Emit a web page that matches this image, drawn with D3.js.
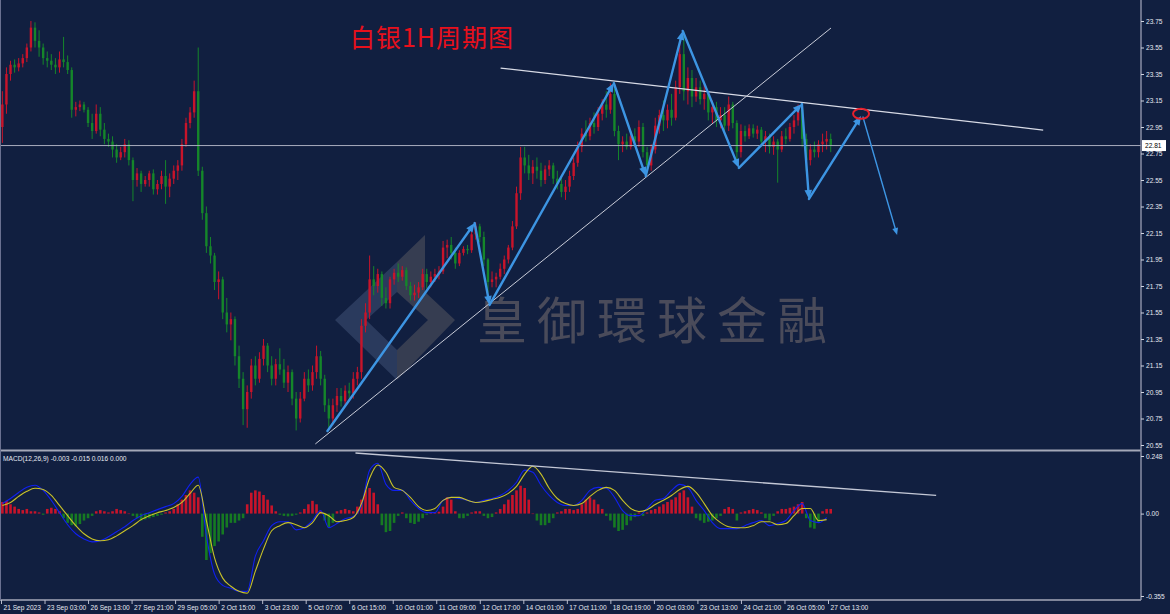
<!DOCTYPE html>
<html><head><meta charset="utf-8">
<script src="https://cdn.jsdelivr.net/npm/d3@7"></script>
<style>html,body{margin:0;padding:0;background:#111f40;overflow:hidden}</style>
</head><body>
<svg id="c" width="1170" height="614"></svg>
<script>
// ---------- DATA (3-hour candles, hour index = 3*i+1) ----------
const opens = [
22.95,23.12,23.35,23.42,23.40,23.43,23.47,23.55,23.70,23.60,
23.55,23.47,23.45,23.42,23.40,23.46,23.44,23.38,23.08,23.10,
23.12,23.08,22.98,22.92,23.05,22.93,22.86,22.84,22.78,22.72,
22.76,22.82,22.70,22.55,22.60,22.52,22.55,22.60,22.48,22.52,
22.58,22.50,22.56,22.62,22.66,22.82,22.98,23.06,23.22,22.62,
22.30,22.05,21.98,21.78,21.80,21.55,21.46,21.50,21.22,21.05,
20.82,20.95,21.15,21.05,21.20,21.30,21.15,21.05,21.16,21.12,
21.02,21.10,20.90,20.75,20.90,21.05,21.00,21.10,21.22,21.05,
20.85,20.75,20.85,20.92,20.88,20.96,20.94,21.05,21.10,21.45,
21.55,21.80,21.75,21.84,21.66,21.62,21.80,21.85,21.82,21.87,
21.75,21.68,21.70,21.74,21.84,21.78,21.82,21.84,21.86,22.04,
22.06,22.00,21.92,22.00,22.03,22.02,22.14,22.20,22.12,21.95,
21.78,21.80,21.82,21.88,21.95,22.04,22.20,22.45,22.72,22.66,
22.60,22.65,22.62,22.55,22.63,22.66,22.56,22.52,22.46,22.50,
22.58,22.68,22.80,22.90,22.88,22.98,22.95,23.05,23.12,23.08,
23.20,22.92,22.82,22.84,22.80,22.88,22.84,22.95,22.76,22.66,
22.78,22.96,23.04,23.00,23.08,23.02,23.25,23.50,23.22,23.32,
23.18,23.25,23.16,23.20,23.06,23.10,23.00,23.04,22.96,23.12,
22.98,22.76,22.92,22.88,22.94,22.90,22.93,22.84,22.88,22.80,
22.84,22.78,22.88,22.86,22.95,23.00,23.08,22.86,22.70,22.78,
22.76,22.82,22.84,22.86];
const highs = [
23.22,23.40,23.45,23.46,23.47,23.50,23.58,23.75,23.74,23.68,
23.58,23.52,23.50,23.47,23.52,23.63,23.49,23.40,23.14,23.15,
23.14,23.10,23.05,23.12,23.10,22.98,22.90,22.88,22.82,22.80,
22.86,22.85,22.72,22.64,22.62,22.58,22.62,22.63,22.55,22.62,
22.70,22.60,22.66,22.70,22.86,23.02,23.10,23.30,23.55,22.65,
22.35,22.12,22.00,21.86,21.82,21.66,21.55,21.52,21.30,21.10,
21.00,21.20,21.22,21.25,21.35,21.32,21.22,21.20,21.28,21.20,
21.15,21.12,20.95,20.95,21.10,21.12,21.15,21.30,21.26,21.08,
20.90,20.90,20.98,20.98,21.00,21.02,21.10,21.14,21.50,21.62,
21.98,21.90,21.88,21.86,21.74,21.82,21.88,21.92,21.90,21.89,
21.78,21.76,21.78,21.88,21.88,21.86,21.88,21.90,22.09,22.10,
22.12,22.04,22.02,22.05,22.06,22.18,22.23,22.22,22.16,21.96,
21.86,21.85,21.92,21.98,22.06,22.24,22.50,22.80,22.80,22.74,
22.70,22.72,22.68,22.66,22.70,22.68,22.62,22.58,22.55,22.62,
22.72,22.84,22.94,23.00,23.02,23.06,23.10,23.16,23.22,23.28,
23.24,22.96,22.88,22.90,22.92,22.94,23.00,22.98,22.80,22.82,
23.02,23.08,23.15,23.12,23.20,23.30,23.60,23.67,23.40,23.38,
23.32,23.30,23.27,23.22,23.15,23.14,23.10,23.10,23.18,23.14,
23.00,22.97,22.96,22.97,22.97,22.96,22.95,22.92,22.90,22.88,
22.86,22.92,22.94,22.98,23.04,23.12,23.10,22.90,22.82,22.84,
22.85,22.90,22.92,22.90];
const lows = [
22.83,23.05,23.30,23.36,23.37,23.40,23.44,23.52,23.55,23.48,
23.42,23.40,23.38,23.35,23.36,23.40,23.35,23.02,23.03,23.07,
23.06,22.95,22.86,22.90,22.88,22.82,22.80,22.72,22.68,22.70,
22.72,22.66,22.39,22.50,22.46,22.50,22.50,22.44,22.44,22.48,
22.37,22.42,22.52,22.55,22.62,22.80,22.94,23.02,22.58,22.25,
22.00,21.92,21.72,21.65,21.50,21.40,21.34,21.15,20.98,20.70,
20.68,20.90,21.00,21.02,21.15,21.10,21.00,21.00,21.08,20.98,
20.95,20.85,20.66,20.72,20.88,20.95,20.96,21.05,21.00,20.80,
20.68,20.70,20.80,20.84,20.85,20.90,20.90,21.00,21.05,21.40,
21.50,21.68,21.70,21.60,21.58,21.58,21.76,21.78,21.79,21.72,
21.64,21.64,21.66,21.72,21.73,21.74,21.78,21.80,21.84,21.96,
21.95,21.88,21.90,21.98,21.99,22.00,22.10,22.08,21.90,21.70,
21.74,21.74,21.80,21.84,21.92,22.02,22.18,22.40,22.60,22.55,
22.52,22.56,22.50,22.52,22.58,22.52,22.48,22.42,22.40,22.46,
22.55,22.65,22.76,22.84,22.85,22.90,22.92,23.00,23.02,23.05,
22.88,22.70,22.76,22.78,22.78,22.80,22.80,22.72,22.60,22.62,
22.75,22.90,22.92,22.94,22.96,23.00,23.20,23.15,23.12,23.10,
23.14,23.12,23.08,23.00,22.98,22.95,22.94,22.92,22.92,22.94,
22.70,22.72,22.84,22.86,22.87,22.86,22.80,22.76,22.75,22.74,
22.53,22.76,22.82,22.84,22.90,22.96,22.80,22.62,22.66,22.72,
22.72,22.76,22.78,22.76];
const closes = [
23.12,23.35,23.42,23.40,23.43,23.47,23.55,23.70,23.60,23.55,
23.47,23.45,23.42,23.40,23.46,23.44,23.38,23.08,23.10,23.12,
23.08,22.98,22.92,23.05,22.93,22.86,22.84,22.78,22.72,22.76,
22.82,22.70,22.55,22.60,22.52,22.55,22.60,22.48,22.52,22.58,
22.50,22.56,22.62,22.66,22.82,22.98,23.06,23.22,22.62,22.30,
22.05,21.98,21.78,21.80,21.55,21.46,21.50,21.22,21.05,20.82,
20.95,21.15,21.05,21.20,21.30,21.15,21.05,21.16,21.12,21.02,
21.10,20.90,20.75,20.90,21.05,21.00,21.10,21.22,21.05,20.85,
20.75,20.85,20.92,20.88,20.96,20.94,21.05,21.10,21.45,21.55,
21.80,21.75,21.84,21.66,21.62,21.80,21.85,21.82,21.87,21.75,
21.68,21.70,21.74,21.84,21.78,21.82,21.84,21.86,22.04,22.06,
22.00,21.92,22.00,22.03,22.02,22.14,22.20,22.12,21.95,21.78,
21.80,21.82,21.88,21.95,22.04,22.20,22.45,22.72,22.66,22.60,
22.65,22.62,22.55,22.63,22.66,22.56,22.52,22.46,22.50,22.58,
22.68,22.80,22.90,22.88,22.98,22.95,23.05,23.12,23.08,23.20,
22.92,22.82,22.84,22.80,22.88,22.84,22.95,22.76,22.66,22.78,
22.96,23.04,23.00,23.08,23.02,23.25,23.50,23.22,23.32,23.18,
23.25,23.16,23.20,23.06,23.10,23.00,23.04,22.96,23.12,22.98,
22.76,22.92,22.88,22.94,22.90,22.93,22.84,22.88,22.80,22.84,
22.78,22.88,22.86,22.95,23.00,23.08,22.86,22.70,22.78,22.76,
22.82,22.84,22.86,22.81];
// MACD histogram, one value per candle
const macdHist = [
0.05,0.055,0.04,0.03,0.02,0.015,0.02,0.01,0.01,0.005,
-0.005,0.02,0.025,0.02,0.01,-0.02,-0.04,-0.05,-0.055,-0.045,
-0.03,-0.02,-0.01,0.01,0.015,0.01,0.005,0.01,0.02,0.015,
0.01,0.0,-0.01,-0.02,-0.03,-0.025,-0.02,-0.015,-0.01,-0.005,
0.005,0.01,0.02,0.04,0.06,0.08,0.10,0.09,0.07,-0.10,
-0.20,-0.17,-0.14,-0.12,-0.09,-0.06,-0.04,-0.04,-0.03,-0.02,
0.04,0.09,0.10,0.095,0.08,0.06,0.035,0.01,-0.005,-0.01,
-0.012,-0.01,-0.005,0.005,0.02,0.04,0.055,0.04,0.01,-0.03,
-0.06,-0.04,0.01,0.015,0.02,0.015,0.01,0.03,0.06,0.10,
0.11,0.09,0.04,-0.05,-0.08,-0.075,-0.04,-0.01,0.005,-0.02,
-0.04,-0.045,-0.035,-0.02,-0.005,0.003,0.005,0.008,0.03,0.07,
0.06,0.01,-0.02,-0.02,-0.01,0.005,0.01,0.01,-0.01,-0.02,
-0.015,0.005,0.02,0.04,0.06,0.08,0.10,0.12,0.11,0.06,
0.0,-0.03,-0.05,-0.05,-0.04,-0.02,0.005,0.01,0.02,0.02,
0.015,0.02,0.04,0.06,0.07,0.06,0.04,0.02,-0.01,-0.03,
-0.06,-0.075,-0.07,-0.05,-0.03,-0.015,0.005,-0.01,0.005,0.015,
0.02,0.03,0.04,0.05,0.06,0.07,0.09,0.10,0.07,0.03,
-0.02,-0.03,-0.04,-0.035,-0.03,-0.02,-0.01,0.02,0.028,0.02,
-0.03,0.005,0.01,0.015,0.02,0.015,0.005,-0.02,-0.03,-0.01,
0.01,0.02,0.02,0.025,0.03,0.04,0.05,-0.02,-0.06,-0.065,
-0.04,0.01,0.02,0.02];
// MACD main (blue) and signal (yellow), one value every 2 candles
const macdMain = [
0.043,0.065,0.091,0.113,0.122,0.100,0.057,0.004,-0.048,-0.087,
-0.109,-0.122,-0.117,-0.100,-0.078,-0.057,-0.030,-0.009,0.004,0.017,
0.030,0.043,0.074,0.126,0.157,-0.096,-0.261,-0.309,-0.322,-0.335,
-0.335,-0.183,-0.117,-0.052,-0.035,-0.035,-0.070,-0.061,-0.030,0.013,
-0.061,-0.043,-0.022,-0.013,0.035,0.187,0.217,0.126,0.100,0.100,
0.057,0.022,0.004,0.004,0.057,0.070,0.065,0.057,0.048,0.057,
0.065,0.078,0.100,0.135,0.187,0.178,0.122,0.078,0.048,0.035,
0.035,0.057,0.100,0.113,0.109,0.070,0.013,-0.009,-0.009,0.022,
0.057,0.065,0.100,0.126,0.113,0.057,0.013,-0.039,-0.065,-0.065,
-0.065,-0.052,-0.039,-0.030,-0.052,-0.043,-0.030,0.013,0.043,-0.030,
-0.039,-0.017];
const macdSignal = [
0.035,0.048,0.074,0.096,0.109,0.104,0.078,0.035,-0.009,-0.052,
-0.087,-0.109,-0.117,-0.113,-0.096,-0.074,-0.052,-0.026,-0.009,0.004,
0.013,0.026,0.048,0.087,0.122,-0.030,-0.191,-0.278,-0.313,-0.335,
-0.343,-0.248,-0.152,-0.074,-0.052,-0.039,-0.048,-0.061,-0.039,0.004,
-0.009,-0.035,-0.030,-0.017,0.043,0.152,0.209,0.178,0.113,0.100,
0.070,0.030,0.013,0.022,0.057,0.070,0.070,0.057,0.048,0.052,
0.061,0.070,0.087,0.117,0.170,0.204,0.170,0.109,0.065,0.043,
0.035,0.043,0.074,0.100,0.113,0.100,0.057,0.022,0.009,0.017,
0.039,0.057,0.078,0.104,0.117,0.091,0.043,-0.009,-0.039,-0.057,
-0.061,-0.061,-0.052,-0.035,-0.035,-0.048,-0.043,-0.009,0.022,0.022,
-0.030,-0.026];
const priceTicks = [23.75,23.55,23.35,23.15,22.95,22.75,22.55,22.35,22.15,21.95,21.75,21.55,21.35,21.15,20.95,20.75,20.55];
const macdTicks = [0.248,0,-0.355];
const macdTickLabels = ["0.248","0.00","-0.355"];
const timeLabels = ["21 Sep 2023","23 Sep 03:00","26 Sep 13:00","27 Sep 21:00","29 Sep 05:00","2 Oct 15:00","3 Oct 23:00","5 Oct 07:00","6 Oct 15:00","10 Oct 01:00","11 Oct 09:00","12 Oct 17:00","14 Oct 01:00","17 Oct 11:00","18 Oct 19:00","20 Oct 03:00","23 Oct 13:00","24 Oct 21:00","26 Oct 05:00","27 Oct 13:00"];
const timeLabelHours = [0,32,64,96,128,160,192,224,256,288,320,352,384,416,448,480,512,544,576,608];
const lastPrice = 22.81;
// annotations in data space (hour index, price)
const waveHours  = [240.0,348.2,359.2,450.5,474.0,501.2,542.5,588.8,594.0,632.3];
const wavePrices = [20.656,22.225,21.607,23.282,22.580,23.675,22.641,23.124,22.407,23.033];
const projHours = [633.7,658.8];
const projPrices = [23.025,22.135];
const resistHours = [367.3,766.2], resistPrices = [23.395,22.927];
const supportHours = [231.1,610.2], supportPrices = [20.558,23.697];
const macdTrendHours = [260.6,687.5], macdTrendValues = [0.261,0.078];
const markHour = 632.3, markPrice = 23.05;

// ---------- SCALES ----------
const svg = d3.select('#c');
const x = d3.scaleLinear().domain([0,608]).range([1,828]);
const y = d3.scaleLinear().domain([20.55,23.75]).range([445,21]);
const ym = d3.scaleLinear().domain([-0.355,0.248]).range([596,456]);
const cx = i => x(3*i+1);
const lx = k => x(6*k+1);
const AXX = 1141;
const FONT = "'Liberation Sans', Arial, sans-serif";

svg.append('rect').attr('width',1170).attr('height',614).attr('fill','#111f40');

// ---------- WATERMARK ----------
const wm = svg.append('g');
wm.append('polygon').attr('points','335,320 397,262 397,292 366,320 397,350 397,380').attr('fill','#4a5a80').attr('opacity',0.45);
wm.append('polygon').attr('points','397,262 425,235 425,292 455,320 397,380 397,350 428,320 397,292').attr('fill','#55555e').attr('opacity',0.55);
wm.append('text').attr('x',477).attr('y',339).text('皇御環球金融')
  .attr('font-family',"'Noto Sans CJK TC','Noto Sans CJK SC',sans-serif").attr('font-size',50)
  .attr('letter-spacing',10).attr('fill','#4a4b5a');

// ---------- TITLE ----------
svg.append('text').attr('x',350).attr('y',47).text('白银1H周期图')
  .attr('font-family',"'Noto Sans CJK SC',sans-serif").attr('font-size',25)
  .attr('textLength',163).attr('lengthAdjust','spacing').attr('fill','#e8101c');

// ---------- CANDLES ----------
const UP='#c8142a', DN='#15862a';
const cg = svg.append('g');
closes.forEach((c,i)=>{
  const o=opens[i], col = c>=o?UP:DN, xx=cx(i);
  cg.append('line').attr('x1',xx).attr('x2',xx).attr('y1',y(highs[i])).attr('y2',y(lows[i]))
    .attr('stroke',col).attr('stroke-width',1);
  const top=y(Math.max(o,c)), h=Math.max(1,Math.abs(y(o)-y(c)));
  cg.append('rect').attr('x',xx-1.2).attr('width',2.4).attr('y',top).attr('height',h).attr('fill',col);
});

// current price line
svg.append('line').attr('x1',0).attr('x2',AXX).attr('y1',y(lastPrice)).attr('y2',y(lastPrice))
  .attr('stroke','#a9adbd').attr('stroke-width',1);

// trend lines
svg.append('line').attr('x1',x(resistHours[0])).attr('y1',y(resistPrices[0])).attr('x2',x(resistHours[1])).attr('y2',y(resistPrices[1]))
  .attr('stroke','#d8dbe6').attr('stroke-width',1.3);
svg.append('line').attr('x1',x(supportHours[0])).attr('y1',y(supportPrices[0])).attr('x2',x(supportHours[1])).attr('y2',y(supportPrices[1]))
  .attr('stroke','#c9ccd8').attr('stroke-width',1);

// arrows
const BLUE='#3d95e3';
function arrow(x1,y1,x2,y2,w,L){
  const a=Math.atan2(y2-y1,x2-x1), hw=L*0.42;
  const bx=x2-L*Math.cos(a), by=y2-L*Math.sin(a);
  svg.append('line').attr('x1',x1).attr('y1',y1).attr('x2',x2-L*0.7*Math.cos(a)).attr('y2',y2-L*0.7*Math.sin(a))
    .attr('stroke',BLUE).attr('stroke-width',w).attr('stroke-linecap','round');
  svg.append('polygon').attr('points',[[x2,y2],[bx+hw*Math.sin(a),by-hw*Math.cos(a)],[bx-hw*Math.sin(a),by+hw*Math.cos(a)]].map(p=>p.join(',')).join(' '))
    .attr('fill',BLUE);
}
for(let k=0;k<waveHours.length-1;k++){
  arrow(x(waveHours[k]),y(wavePrices[k]),x(waveHours[k+1]),y(wavePrices[k+1]),2.4,9);
}
arrow(x(projHours[0]),y(projPrices[0]),x(projHours[1]),y(projPrices[1]),1.4,7);
svg.append('ellipse').attr('cx',x(markHour)).attr('cy',y(markPrice)).attr('rx',8).attr('ry',5)
  .attr('fill','none').attr('stroke','#e8202c').attr('stroke-width',2);

// ---------- MACD PANEL ----------
const mg = svg.append('g');
macdHist.forEach((v,i)=>{
  const xx=cx(i);
  mg.append('rect').attr('x',xx-1.3).attr('width',2.6)
    .attr('y',Math.min(ym(v),ym(0))).attr('height',Math.max(0.5,Math.abs(ym(v)-ym(0))))
    .attr('fill',v>=0?'#c8142a':'#167a22');
});
const lineGen = d3.line().x((d,k)=>lx(k)).y(d=>ym(d)).curve(d3.curveMonotoneX);
mg.append('path').attr('d',lineGen(macdMain)).attr('fill','none').attr('stroke','#1020f0').attr('stroke-width',1.1);
mg.append('path').attr('d',lineGen(macdSignal)).attr('fill','none').attr('stroke','#c9c228').attr('stroke-width',1.1);
svg.append('line').attr('x1',x(macdTrendHours[0])).attr('y1',ym(macdTrendValues[0])).attr('x2',x(macdTrendHours[1])).attr('y2',ym(macdTrendValues[1]))
  .attr('stroke','#c4c8d6').attr('stroke-width',1.3);
svg.append('text').attr('x',3).attr('y',461).text('MACD(12,26,9) -0.003 -0.015 0.016 0.000')
  .attr('font-family',FONT).attr('font-size',6.6).attr('fill','#e6e8f0');

// ---------- FRAMES ----------
const fr = '#a4a8b8';
svg.append('line').attr('x1',0).attr('x2',AXX).attr('y1',450.5).attr('y2',450.5).attr('stroke',fr).attr('stroke-width',2);
svg.append('line').attr('x1',0).attr('x2',AXX).attr('y1',600).attr('y2',600).attr('stroke',fr).attr('stroke-width',1.5);
svg.append('line').attr('x1',AXX).attr('x2',AXX).attr('y1',0).attr('y2',600).attr('stroke','#8a8fa6').attr('stroke-width',1.5);
svg.append('line').attr('x1',0.5).attr('x2',0.5).attr('y1',0).attr('y2',600).attr('stroke','#6a7090').attr('stroke-width',1);

// price axis
const ra = svg.append('g').attr('transform',`translate(${AXX},0)`)
  .call(d3.axisRight(y).tickValues(priceTicks).tickSize(3).tickPadding(2).tickFormat(d3.format('.2f')));
ra.select('.domain').remove();
ra.selectAll('line').attr('stroke','#d0d4e0');
ra.selectAll('text').attr('font-family',FONT).attr('font-size',6.6).attr('fill','#e6e8f0');

// MACD axis
const ma = svg.append('g').attr('transform',`translate(${AXX},0)`)
  .call(d3.axisRight(ym).tickValues(macdTicks).tickSize(3).tickPadding(2).tickFormat((d,i)=>macdTickLabels[i]));
ma.select('.domain').remove();
ma.selectAll('line').attr('stroke','#d0d4e0');
ma.selectAll('text').attr('font-family',FONT).attr('font-size',6.6).attr('fill','#e6e8f0');

// last price label
svg.append('rect').attr('x',AXX+1).attr('y',y(lastPrice)-5.5).attr('width',24).attr('height',11).attr('fill','#ffffff');
svg.append('text').attr('x',AXX+4).attr('y',y(lastPrice)+2.4).text(lastPrice.toFixed(2))
  .attr('font-family',FONT).attr('font-size',6.6).attr('fill','#000');

// time axis
const ta = svg.append('g').attr('transform','translate(0,600)')
  .call(d3.axisBottom(x).tickValues(timeLabelHours).tickSize(4).tickFormat((d,i)=>timeLabels[i]));
ta.select('.domain').remove();
ta.selectAll('line').attr('stroke','#b8bccc');
ta.selectAll('text').attr('font-family',FONT).attr('font-size',6.6).attr('fill','#e6e8f0')
  .attr('text-anchor','start').attr('dx',2).attr('y',5);
</script>
</body></html>
